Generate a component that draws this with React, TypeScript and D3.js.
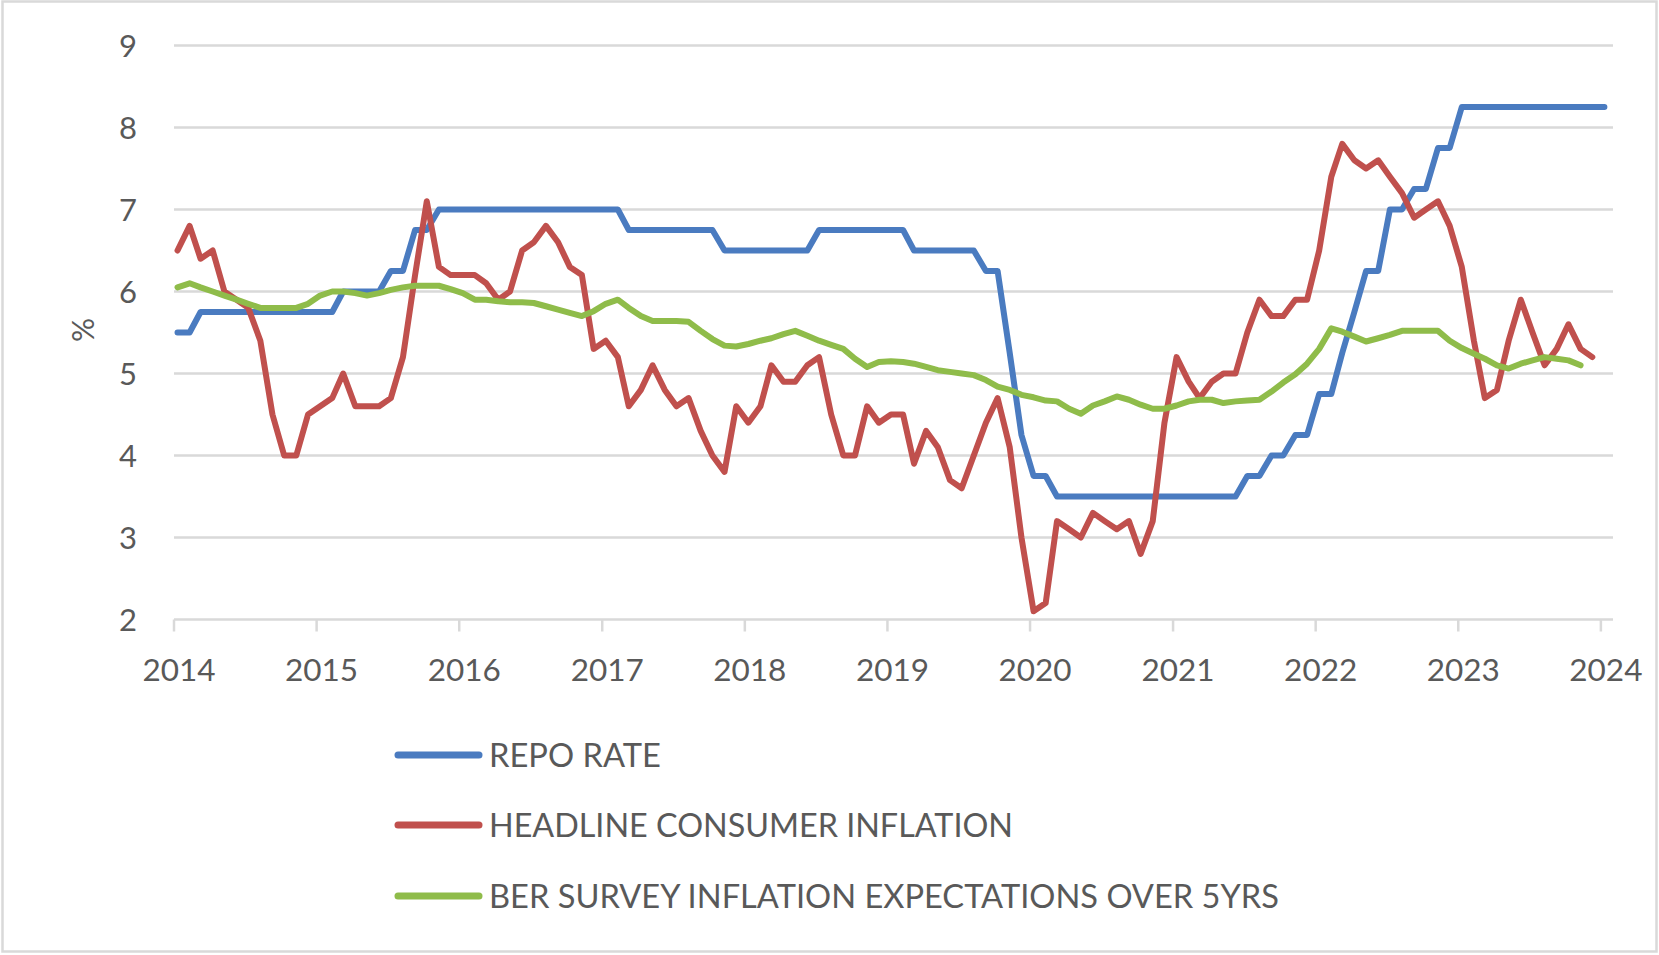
import React from 'react';
import * as d3 from 'd3';

// monthly points, first point is the first month of the series (plotted from Jan 2014)
const repoRate = [
  5.5, 5.5, 5.75, 5.75, 5.75, 5.75, 5.75, 5.75, 5.75, 5.75, 5.75, 5.75,
  5.75, 5.75, 6.0, 6.0, 6.0, 6.0, 6.25, 6.25, 6.75, 6.75, 7.0, 7.0,
  7.0, 7.0, 7.0, 7.0, 7.0, 7.0, 7.0, 7.0, 7.0, 7.0, 7.0, 7.0,
  7.0, 7.0, 6.75, 6.75, 6.75, 6.75, 6.75, 6.75, 6.75, 6.75, 6.5, 6.5,
  6.5, 6.5, 6.5, 6.5, 6.5, 6.5, 6.75, 6.75, 6.75, 6.75, 6.75, 6.75,
  6.75, 6.75, 6.5, 6.5, 6.5, 6.5, 6.5, 6.5, 6.25, 6.25, 5.25, 4.25,
  3.75, 3.75, 3.5, 3.5, 3.5, 3.5, 3.5, 3.5, 3.5, 3.5, 3.5, 3.5,
  3.5, 3.5, 3.5, 3.5, 3.5, 3.5, 3.75, 3.75, 4.0, 4.0, 4.25, 4.25,
  4.75, 4.75, 5.25, 5.75, 6.25, 6.25, 7.0, 7.0, 7.25, 7.25, 7.75, 7.75,
  8.25, 8.25, 8.25, 8.25, 8.25, 8.25, 8.25, 8.25, 8.25, 8.25, 8.25, 8.25,
  8.25,
];

const headlineCpi = [
  6.5, 6.8, 6.4, 6.5, 6.0, 5.9, 5.8, 5.4, 4.5, 4.0, 4.0, 4.5,
  4.6, 4.7, 5.0, 4.6, 4.6, 4.6, 4.7, 5.2, 6.2, 7.1, 6.3, 6.2,
  6.2, 6.2, 6.1, 5.9, 6.0, 6.5, 6.6, 6.8, 6.6, 6.3, 6.2, 5.3,
  5.4, 5.2, 4.6, 4.8, 5.1, 4.8, 4.6, 4.7, 4.3, 4.0, 3.8, 4.6,
  4.4, 4.6, 5.1, 4.9, 4.9, 5.1, 5.2, 4.5, 4.0, 4.0, 4.6, 4.4,
  4.5, 4.5, 3.9, 4.3, 4.1, 3.7, 3.6, 4.0, 4.4, 4.7, 4.1, 3.0,
  2.1, 2.2, 3.2, 3.1, 3.0, 3.3, 3.2, 3.1, 3.2, 2.8, 3.2, 4.4,
  5.2, 4.9, 4.7, 4.9, 5.0, 5.0, 5.5, 5.9, 5.7, 5.7, 5.9, 5.9,
  6.5, 7.4, 7.8, 7.6, 7.5, 7.6, 7.4, 7.2, 6.9, 7.0, 7.1, 6.8,
  6.3, 5.4, 4.7, 4.8, 5.4, 5.9, 5.5, 5.1, 5.3, 5.6, 5.3, 5.2,
];

const berExpectations = [
  6.05, 6.1, 6.05, 6.0, 5.95, 5.9, 5.85, 5.8, 5.8, 5.8, 5.8, 5.85,
  5.95, 6.0, 6.0, 5.98, 5.95, 5.98, 6.02, 6.05, 6.07, 6.07, 6.07, 6.03,
  5.98, 5.9, 5.9, 5.88, 5.87, 5.87, 5.86, 5.82, 5.78, 5.74, 5.7, 5.76,
  5.85, 5.9, 5.8, 5.7, 5.64, 5.64, 5.64, 5.63, 5.52, 5.42, 5.34, 5.33,
  5.36, 5.4, 5.43, 5.48, 5.52, 5.46, 5.4, 5.35, 5.3, 5.18, 5.08, 5.14,
  5.15, 5.14, 5.12, 5.08, 5.04, 5.02, 5.0, 4.98, 4.92, 4.84, 4.8, 4.74,
  4.71, 4.67, 4.66, 4.57, 4.51, 4.61, 4.66, 4.72, 4.68, 4.62, 4.57, 4.57,
  4.61, 4.66, 4.68, 4.68, 4.64, 4.66, 4.67, 4.68, 4.78, 4.89, 4.99, 5.12,
  5.3, 5.55, 5.51, 5.45, 5.39, 5.43, 5.47, 5.52, 5.52, 5.52, 5.52, 5.4,
  5.31, 5.24, 5.18, 5.1, 5.06, 5.12, 5.16, 5.2, 5.18, 5.16, 5.1,
];

const yearTicks = [2014, 2015, 2016, 2017, 2018, 2019, 2020, 2021, 2022, 2023, 2024];
const yTicks = [2, 3, 4, 5, 6, 7, 8, 9];

const seriesNames = ['REPO RATE', 'HEADLINE CONSUMER INFLATION', 'BER SURVEY INFLATION EXPECTATIONS OVER 5YRS'];
const seriesColors = ['#4a7bc0', '#c0504d', '#8fbc4a'];

const W = 1659;
const H = 955;
const FONT = 'Lato, "Open Sans", sans-serif';
const TEXT = '#595959';
const GRID = '#d9d9d9';

const App: React.FC = () => {
  const x = d3.scaleTime()
    .domain([new Date(2014, 0, 1), new Date(2024, 1, 1)])
    .range([174, 1613]);

  const y = d3.scaleLinear()
    .domain([2, 9])
    .range([619.5, 45.5]);

  const pointDate = (i: number) => new Date(2014, i, 10);

  const line = d3.line<number>()
    .x((_, i) => x(pointDate(i)))
    .y(d => y(d));

  const allSeries = [repoRate, headlineCpi, berExpectations];
  const legendY = [755, 825, 896];
  const legendWidths = [172, 524, 790];

  return (
    <svg
      width={W}
      height={H}
      style={{ position: 'absolute', left: 0, top: 0, background: '#fff' }}
      fontFamily={FONT}
    >
      <rect x={2.5} y={1.5} width={1654} height={950} fill="#fff" stroke={GRID} strokeWidth={2.5} />

      {yTicks.map(t => (
        <g key={t}>
          <line x1={x.range()[0]} x2={x.range()[1]} y1={y(t)} y2={y(t)} stroke={GRID} strokeWidth={2.5} />
          <text x={137} y={y(t)} dy="0.36em" textAnchor="end" fontSize={31} fill={TEXT}>{t}</text>
        </g>
      ))}

      {yearTicks.map(yr => {
        const px = x(new Date(yr, 0, 1));
        return (
          <g key={yr}>
            <line x1={px} x2={px} y1={y(2)} y2={y(2) + 12} stroke={GRID} strokeWidth={2.5} />
            <text x={px + 5} y={681} textAnchor="middle" fontSize={31.5} fill={TEXT}>{yr}</text>
          </g>
        );
      })}

      <text
        transform={`translate(94,330) rotate(-90)`}
        textAnchor="middle"
        fontSize={30}
        fill={TEXT}
      >%</text>

      {allSeries.map((s, k) => (
        <path
          key={k}
          d={line(s) || ''}
          fill="none"
          stroke={seriesColors[k]}
          strokeWidth={6}
          strokeLinejoin="round"
          strokeLinecap="round"
        />
      ))}

      {seriesNames.map((name, k) => (
        <g key={name}>
          <line x1={398} x2={479} y1={legendY[k]} y2={legendY[k]} stroke={seriesColors[k]} strokeWidth={7} strokeLinecap="round" />
          <text
            x={489}
            y={legendY[k]}
            dy="0.36em"
            fontSize={33}
            fill={TEXT}
            textLength={legendWidths[k]}
            lengthAdjust="spacingAndGlyphs"
          >{name}</text>
        </g>
      ))}
    </svg>
  );
};

export default App;
